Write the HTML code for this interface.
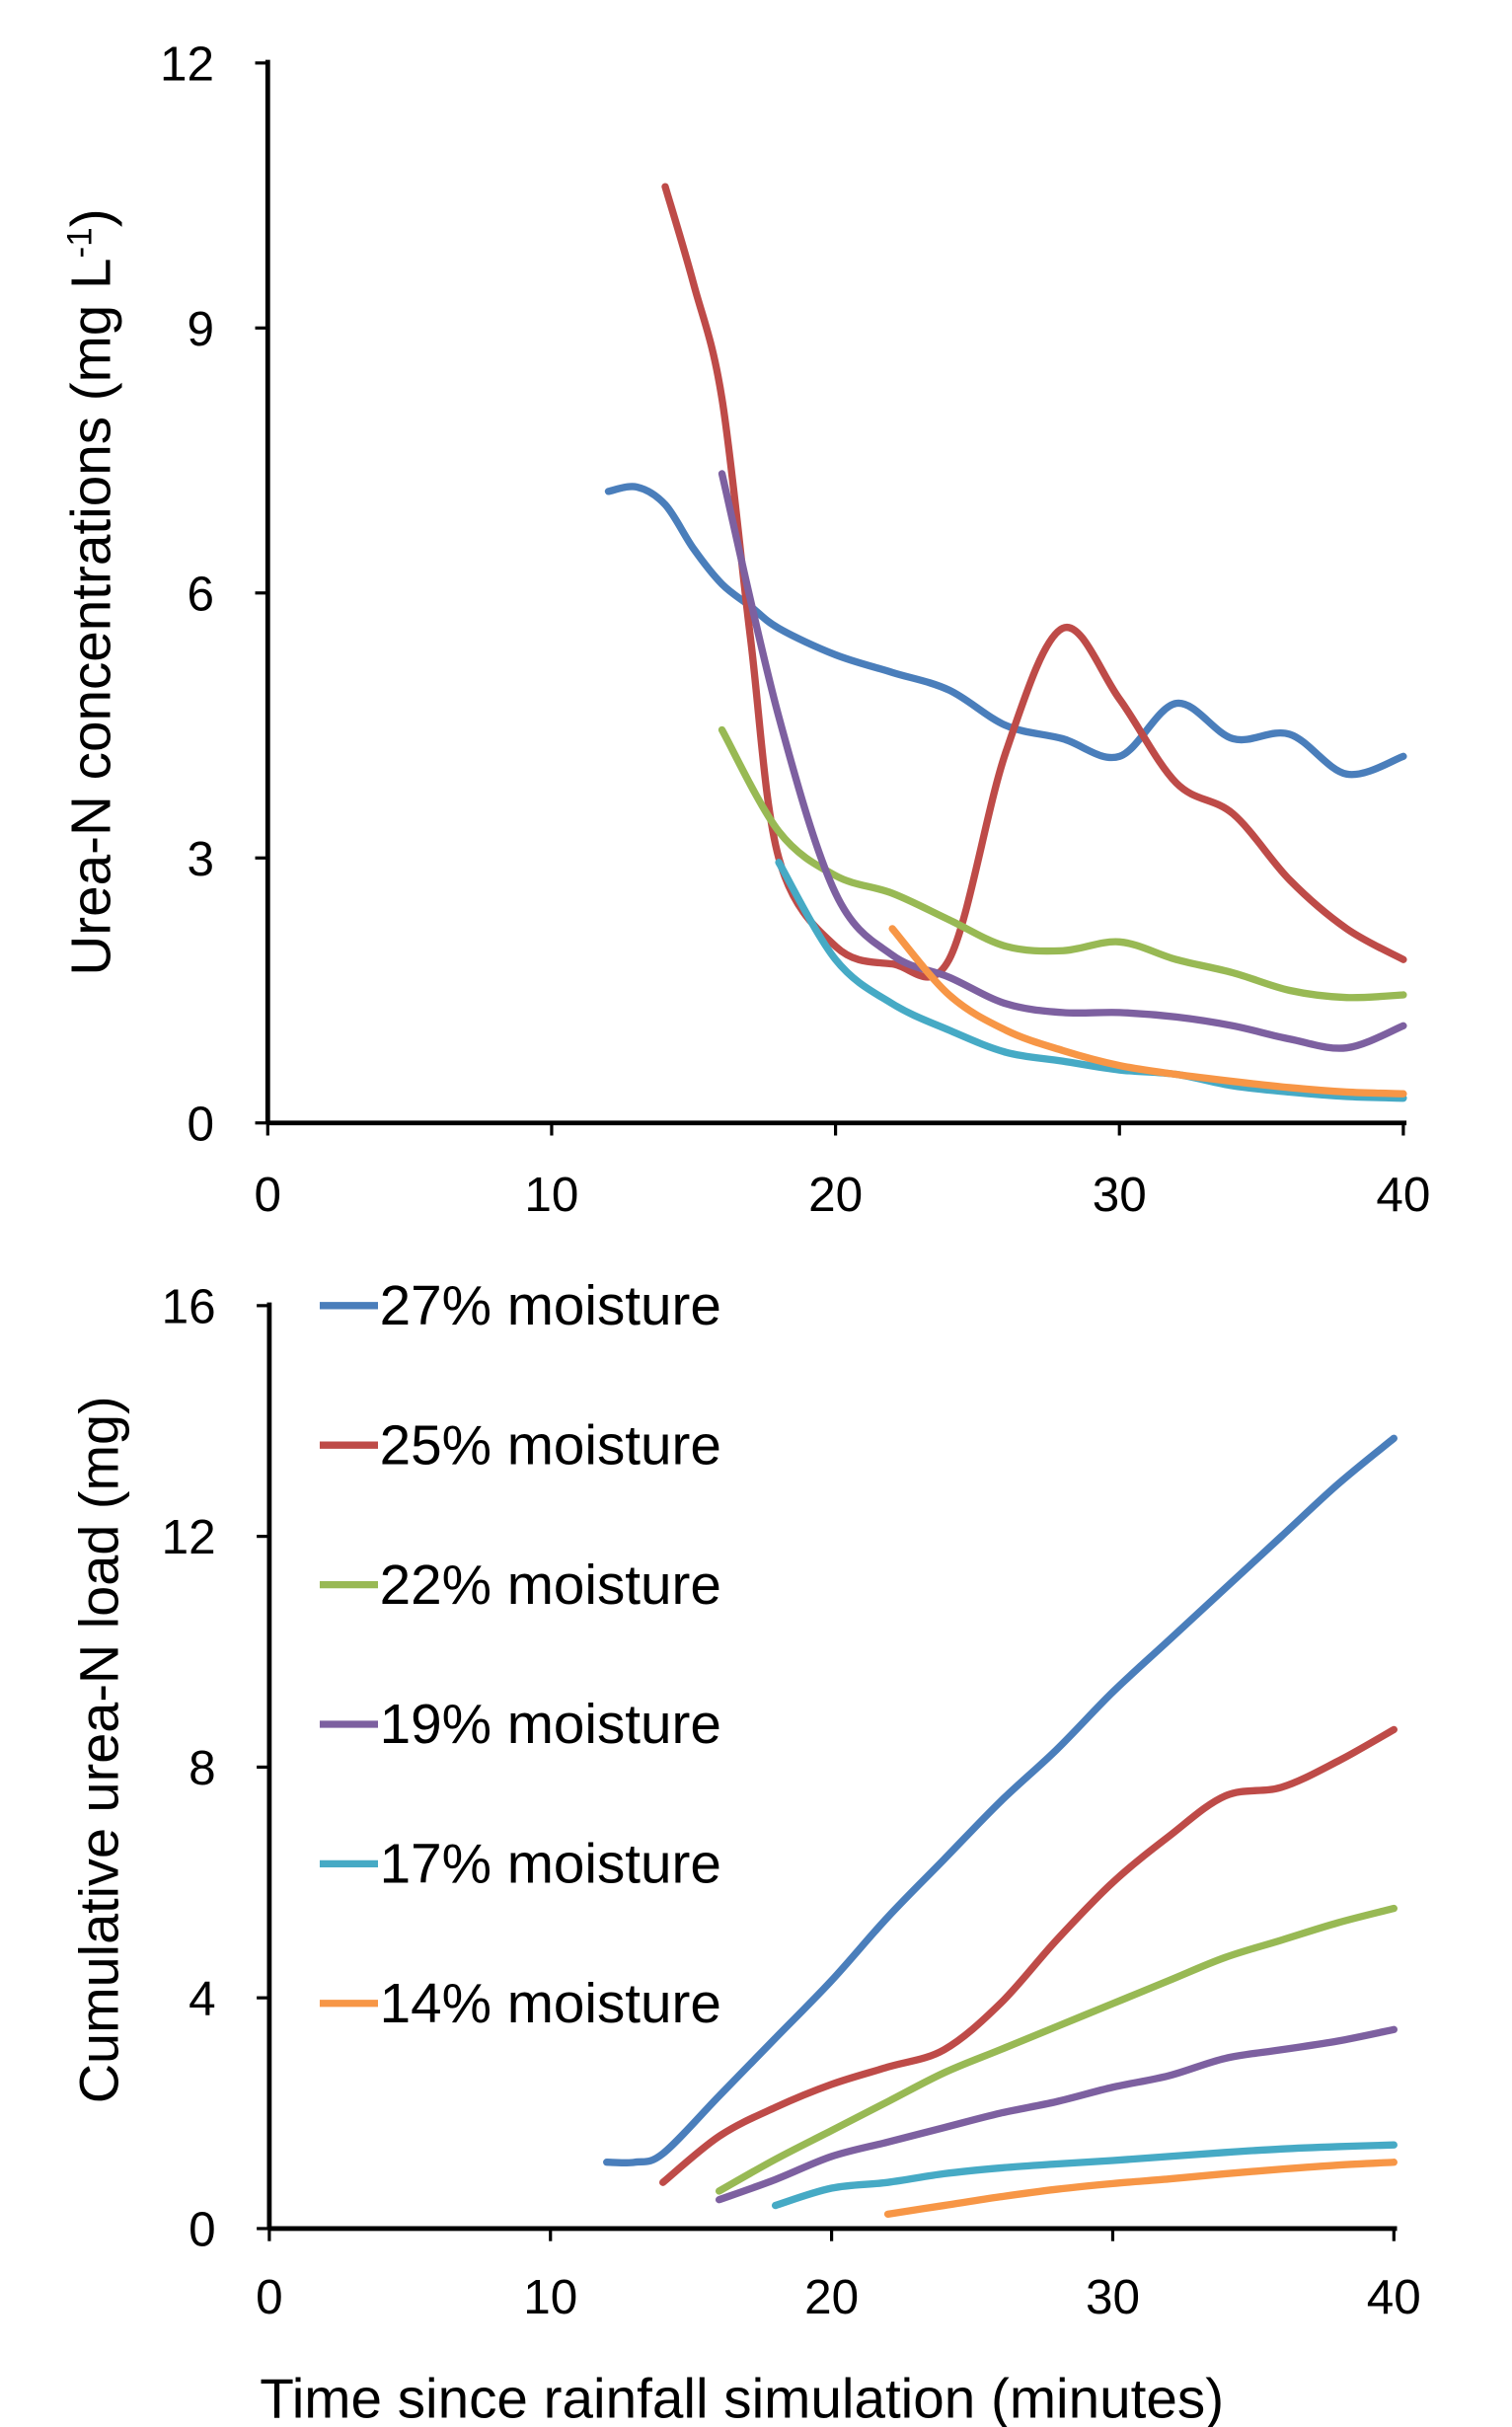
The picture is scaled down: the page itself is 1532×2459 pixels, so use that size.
<!DOCTYPE html>
<html><head><meta charset="utf-8"><style>
html,body{margin:0;padding:0;background:#fff}
svg{display:block;font-family:"Liberation Sans",sans-serif}
</style></head><body>
<svg id="c" width="1532" height="2459" viewBox="0 0 960 1541" preserveAspectRatio="none" xmlns="http://www.w3.org/2000/svg"></svg>
<script>
const seriesNames=["27% moisture","25% moisture","22% moisture","19% moisture","17% moisture","14% moisture"];
const colors=["#4a7ebb","#be4b48","#98b954","#7d60a0","#46aac5","#f79646"];
const topX=[[12,13,14,15,16,17,18,20,22,24,26,28,30,32,34,36,38,40],[14,15,16,17,18,20,22,24,26,28,30,32,34,36,38,40],[16,18,20,22,24,26,28,30,32,34,36,38,40],[16,18,20,22,24,26,28,30,32,34,36,38,40],[18,20,22,24,26,28,30,32,34,36,38,40],[22,24,26,28,30,32,34,36,38,40]];
const topY=[[7.15,7.2,7.0,6.5,6.1,5.85,5.6,5.3,5.1,4.9,4.5,4.35,4.15,4.75,4.35,4.4,3.95,4.15],[10.6,9.5,8.2,5.5,3.0,2.0,1.8,1.85,4.2,5.6,4.8,3.85,3.5,2.75,2.2,1.85],[4.45,3.3,2.8,2.6,2.3,2.0,1.95,2.05,1.85,1.7,1.5,1.42,1.45],[7.35,4.6,2.6,1.9,1.65,1.35,1.25,1.25,1.2,1.1,0.95,0.85,1.1],[2.95,1.85,1.35,1.05,0.8,0.7,0.6,0.55,0.42,0.35,0.3,0.28],[2.2,1.45,1.05,0.82,0.65,0.55,0.47,0.4,0.35,0.33]];
const botX=[[12,13,14,16,18,20,22,24,26,28,30,32,34,36,38,40],[14,16,18,20,22,24,26,28,30,32,34,36,38,40],[16,18,20,22,24,26,28,30,32,34,36,38,40],[16,18,20,22,24,26,28,30,32,34,36,38,40],[18,20,22,24,26,28,30,32,34,36,38,40],[22,24,26,28,30,32,34,36,38,40]];
const botY=[[1.15,1.15,1.3,2.3,3.3,4.3,5.4,6.4,7.4,8.3,9.3,10.2,11.1,12.0,12.9,13.7],[0.8,1.6,2.1,2.5,2.8,3.1,3.9,5.0,6.0,6.8,7.5,7.65,8.1,8.65],[0.65,1.2,1.7,2.2,2.7,3.1,3.5,3.9,4.3,4.7,5.0,5.3,5.55],[0.5,0.85,1.25,1.5,1.75,2.0,2.2,2.45,2.65,2.95,3.1,3.25,3.45],[0.4,0.7,0.8,0.95,1.05,1.12,1.18,1.25,1.32,1.38,1.42,1.45],[0.25,0.4,0.55,0.68,0.78,0.86,0.95,1.03,1.1,1.15]];
const xTicks=[0,10,20,30,40];
const topYTicks=[0,3,6,9,12];
const botYTicks=[0,4,8,12,16];
const svg=document.getElementById('c');const NS="http://www.w3.org/2000/svg";
function el(t,a,txt){const e=document.createElementNS(NS,t);for(const k in a)e.setAttribute(k,a[k]);if(txt!==undefined)e.textContent=txt;svg.appendChild(e);return e;}
function path(pts){let d="M"+pts[0][0]+","+pts[0][1];for(let i=0;i<pts.length-1;i++){const p0=pts[i-1]||pts[i],p1=pts[i],p2=pts[i+1],p3=pts[i+2]||p2;const c1=[p1[0]+(p2[0]-p0[0])/6,p1[1]+(p2[1]-p0[1])/6],c2=[p2[0]-(p3[0]-p1[0])/6,p2[1]-(p3[1]-p1[1])/6];d+=" C"+c1+" "+c2+" "+p2;}return d;}
function chart(name,x0,x1,yTop,yBot,yMax,yTicks,xs,ys,tickLabY){
  const sx=v=>x0+(x1-x0)*v/40, sy=v=>yBot-(yBot-yTop)*v/yMax;
  let a=el('line',{x1:x0,y1:yTop-2,x2:x0,y2:yBot,stroke:'#000','stroke-width':3});
  
  a=el('line',{x1:x0,y1:yBot,x2:x1+2,y2:yBot,stroke:'#000','stroke-width':3});
  
  yTicks.forEach(v=>{el('line',{x1:x0-8,y1:sy(v),x2:x0,y2:sy(v),stroke:'#000','stroke-width':2});
    const t=el('text',{x:x0-34,y:sy(v)+11,'font-size':31,'text-anchor':'end'},v);
    });
  xTicks.forEach(v=>{el('line',{x1:sx(v),y1:yBot,x2:sx(v),y2:yBot+8,stroke:'#000','stroke-width':2});
    const t=el('text',{x:sx(v),y:tickLabY,'font-size':31,'text-anchor':'middle'},v);
    });
  xs.forEach((xa,i)=>{const p=el('path',{d:path(xa.map((x,j)=>[sx(x),sy(ys[i][j])])),fill:'none',stroke:colors[i],'stroke-width':4.6,'stroke-linejoin':'round','stroke-linecap':'round'});
    });
}
chart('top',170,891,40,713,12,topYTicks,topX,topY,769);
chart('bottom',171,885,829,1415,16,botYTicks,botX,botY,1469);
let t=el('text',{x:0,y:0,'font-size':35.5,'text-anchor':'middle',transform:'translate(70,376) rotate(-90)'});
t.innerHTML='Urea-N concentrations  (mg L<tspan dy="-12" font-size="22">-1</tspan><tspan dy="12">)</tspan>';

t=el('text',{x:0,y:0,'font-size':35,'text-anchor':'middle',transform:'translate(75,1111) rotate(-90)'},'Cumulative urea-N load (mg)');

t=el('text',{x:471,y:1535,'font-size':35.5,'text-anchor':'middle'},'Time since rainfall simulation (minutes)');

seriesNames.forEach((n,i)=>{const y=829+i*88.6;
  const l=el('line',{x1:203,y1:y,x2:240,y2:y,stroke:colors[i],'stroke-width':4.6});
  
  const tx=el('text',{x:241,y:y+12,'font-size':35.5},n);
  });
</script>
</body></html>
